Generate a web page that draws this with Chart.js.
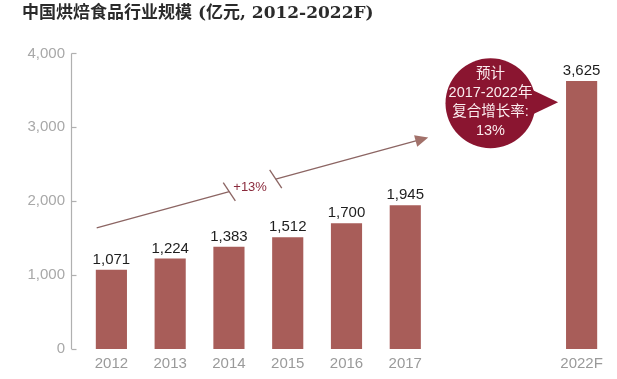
<!DOCTYPE html>
<html>
<head>
<meta charset="utf-8">
<script src="https://cdn.jsdelivr.net/npm/chart.js@4.4.0/dist/chart.umd.min.js"></script>
<style>
html,body{margin:0;padding:0;background:#fff;}
#wrap{width:617px;height:379px;position:relative;}
</style>
</head>
<body>
<div id="wrap"><canvas id="c" width="617" height="379"></canvas></div>
<script>
// ---- data ----
const categories = ['2012','2013','2014','2015','2016','2017','','','2022F'];
const values = [1071,1224,1383,1512,1700,1945,null,null,3625];
const yTicks = [0,1000,2000,3000,4000];
const titleText = '中国烘焙食品行业规模 (亿元, 2012-2022F)';
const trendLabel = '+13%';
const bubbleLines = ['预计','2017-2022年','复合增长率:','13%'];

const BAR = '#a85d59';
const MAROON = '#8a1530';

const fmt = v => v.toLocaleString('en-US');

const decor = {
  id: 'decor',
  afterDatasetsDraw(chart) {
    const ctx = chart.ctx;
    const x = chart.scales.x, y = chart.scales.y;
    const step = x.getPixelForValue(1) - x.getPixelForValue(0);
    const px = i => x.getPixelForValue(0) + i * step;

    // y-axis bracket
    ctx.save();
    ctx.strokeStyle = '#b0b0b0';
    ctx.lineWidth = 1.2;
    const ax = chart.chartArea.left - 10.5;
    ctx.beginPath();
    ctx.moveTo(ax, y.getPixelForValue(4000));
    ctx.lineTo(ax, y.getPixelForValue(0));
    ctx.stroke();
    yTicks.forEach(t => {
      const yy = Math.round(y.getPixelForValue(t)) + 0.5;
      ctx.beginPath(); ctx.moveTo(ax, yy); ctx.lineTo(ax + 5, yy); ctx.stroke();
    });
    ctx.restore();

    // value labels
    ctx.save();
    ctx.font = '15px "Liberation Sans", Arial, sans-serif';
    ctx.fillStyle = '#1e1e1e';
    ctx.textAlign = 'center';
    ctx.textBaseline = 'alphabetic';
    const meta = chart.getDatasetMeta(0);
    meta.data.forEach((el, i) => {
      if (values[i] == null) return;
      ctx.fillText(fmt(values[i]), el.x, el.y - 6);
    });
    ctx.restore();

    // trend arrow (anchored in data space)
    const x0 = px(-0.25), y0 = y.getPixelForValue(1640);
    const x1 = px(5.39), y1 = y.getPixelForValue(2862);
    const dx = x1 - x0, dy = y1 - y0, len = Math.hypot(dx, dy);
    const ux = dx / len, uy = dy / len;
    const nx = -uy, ny = ux;
    const g0 = 0.40, g1 = 0.54;
    ctx.save();
    ctx.strokeStyle = '#8c6563';
    ctx.lineWidth = 1.3;
    ctx.beginPath();
    ctx.moveTo(x0, y0); ctx.lineTo(x0 + dx * g0, y0 + dy * g0);
    ctx.moveTo(x0 + dx * g1, y0 + dy * g1); ctx.lineTo(x1 - ux * 10, y1 - uy * 10);
    ctx.stroke();
    // break marks
    [g0, g1].forEach(g => {
      const cx = x0 + dx * g, cy = y0 + dy * g;
      const mx = 0.55, my = 0.83, L = 11;
      ctx.beginPath();
      ctx.moveTo(cx - mx * L, cy - my * L);
      ctx.lineTo(cx + mx * L, cy + my * L);
      ctx.stroke();
    });
    // arrow head
    ctx.fillStyle = '#a2716a';
    ctx.beginPath();
    ctx.moveTo(x1, y1);
    ctx.lineTo(x1 - ux * 13 + nx * 6, y1 - uy * 13 + ny * 6);
    ctx.lineTo(x1 - ux * 13 - nx * 6, y1 - uy * 13 - ny * 6);
    ctx.closePath();
    ctx.fill();
    // +13% label
    ctx.fillStyle = '#8a2a3c';
    ctx.font = '13px "Liberation Sans", Arial, sans-serif';
    ctx.textAlign = 'center';
    ctx.textBaseline = 'middle';
    ctx.fillText(trendLabel, px(2.36), y.getPixelForValue(2190));
    ctx.restore();

    // callout bubble
    const bx = px(6.45), by = y.getPixelForValue(3325), r = 45;
    const tipX = px(7.6), tipY = y.getPixelForValue(3340);
    ctx.save();
    ctx.fillStyle = MAROON;
    ctx.beginPath();
    ctx.arc(bx, by, r, 0, Math.PI * 2);
    ctx.fill();
    ctx.beginPath();
    ctx.moveTo(bx + r * 0.85, by - 15);
    ctx.lineTo(tipX, tipY);
    ctx.lineTo(bx + r * 0.85, by + 13);
    ctx.closePath();
    ctx.fill();
    ctx.fillStyle = '#fbecee';
    ctx.font = '14.5px "Liberation Sans", "Noto Sans CJK SC", sans-serif';
    ctx.textAlign = 'center';
    ctx.textBaseline = 'middle';
    const lh = 19;
    bubbleLines.forEach((t, i) => {
      ctx.fillText(t, bx, by - 29 + i * lh);
    });
    ctx.restore();
  }
};

new Chart(document.getElementById('c'), {
  type: 'bar',
  data: {
    labels: categories,
    datasets: [{
      data: values,
      backgroundColor: BAR,
      borderWidth: 0,
      categoryPercentage: 1,
      barPercentage: 0.53
    }]
  },
  options: {
    responsive: false,
    animation: false,
    devicePixelRatio: 1,
    layout: { padding: { left: 22, right: 6, top: 0, bottom: 0 } },
    plugins: {
      legend: { display: false },
      tooltip: { enabled: false },
      title: {
        display: true,
        text: titleText,
        align: 'start',
        color: '#2b2b2b',
        font: { family: '"DejaVu Serif", "Noto Sans CJK SC", serif', size: 17, weight: 'bold' },
        padding: { top: 3, bottom: 30 }
      }
    },
    scales: {
      x: {
        grid: { display: false, drawTicks: false },
        border: { display: false },
        ticks: {
          color: '#9a9a9a',
          font: { family: '"Liberation Sans", Arial, sans-serif', size: 15 },
          padding: 6,
          maxRotation: 0,
          autoSkip: false
        }
      },
      y: {
        min: 0, max: 4000,
        afterFit: s => { s.width = 60; },
        afterBuildTicks: s => { s.ticks = yTicks.map(v => ({ value: v })); },
        grid: { display: false, drawTicks: false },
        border: { display: false },
        ticks: {
          color: '#a8a8a8',
          font: { family: '"Liberation Sans", Arial, sans-serif', size: 15 },
          padding: 17,
          callback: v => fmt(v)
        }
      }
    }
  },
  plugins: [decor]
});
</script>
</body>
</html>
